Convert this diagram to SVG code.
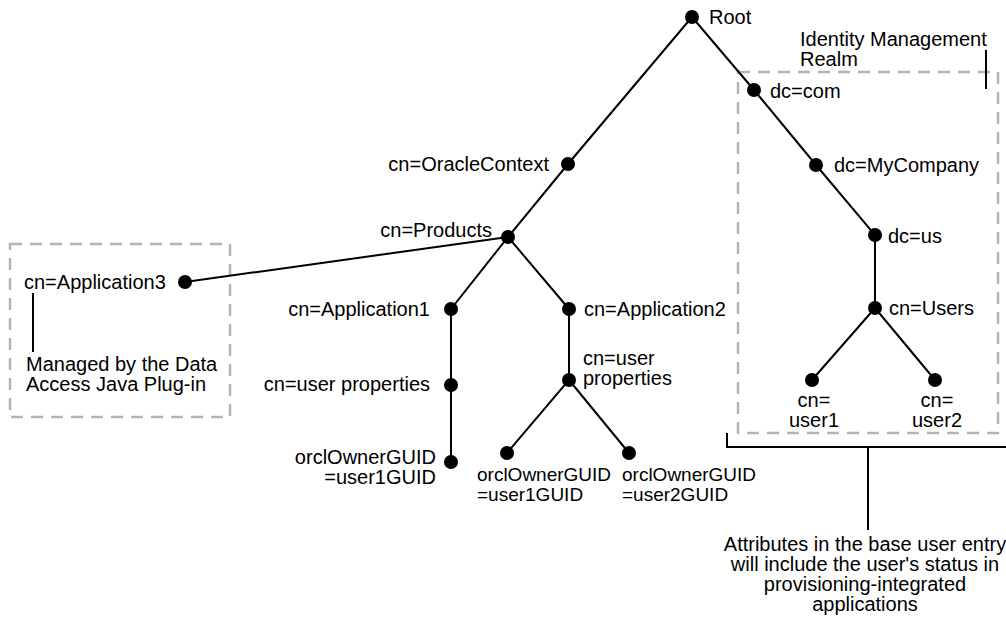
<svg xmlns="http://www.w3.org/2000/svg" width="1006" height="621" viewBox="0 0 1006 621">
<style>
  text { font-family: "Liberation Sans", Arial, sans-serif; font-size: 20px; fill: #000; }
  .e { text-anchor: end; }
  .m { text-anchor: middle; }
  .s { font-size: 19px; }
  .dot { fill: #000; }
  .ln { stroke: #000; stroke-width: 2; fill: none; }
  .dash { stroke: #b3b3b3; stroke-width: 2.5; stroke-dasharray: 12 8; fill: none; }
</style>
<rect width="1006" height="621" fill="#fff"/>
<g id="regions">
  <rect class="dash" x="10" y="244" width="220" height="173"/>
  <rect class="dash" x="738" y="72" width="260" height="361"/>
</g>
<g id="connectors">
  <path class="ln" d="M692,17 L568,164 L508,237"/>
  <path class="ln" d="M692,17 L754,90 L816,165 L875,235 L875,308"/>
  <path class="ln" d="M875,308 L812,380 M875,308 L935,380"/>
  <path class="ln" d="M508,237 L185,282 M508,237 L451,309 M508,237 L569,309"/>
  <path class="ln" d="M451,309 L451,462"/>
  <path class="ln" d="M569,309 L569,380 L507,453 M569,380 L629,453"/>
  <path class="ln" d="M33,293 V352"/>
  <path class="ln" d="M986,50 V89"/>
  <path class="ln" d="M727,433 V447 H1006 M868,447 V530"/>
</g>
<g id="root"><circle class="dot" cx="692" cy="17" r="7"/><text x="709" y="24">Root</text></g>
<g id="dc-com"><circle class="dot" cx="754" cy="90" r="7"/><text x="770" y="98">dc=com</text></g>
<g id="dc-mycompany"><circle class="dot" cx="816" cy="165" r="7"/><text x="834" y="172">dc=MyCompany</text></g>
<g id="dc-us"><circle class="dot" cx="875" cy="235" r="7"/><text x="888" y="243">dc=us</text></g>
<g id="cn-users"><circle class="dot" cx="875" cy="308" r="7"/><text x="889" y="315">cn=Users</text></g>
<g id="cn-user1"><circle class="dot" cx="812" cy="380" r="7"/><text class="m" x="814" y="407">cn=</text><text class="m" x="814" y="427">user1</text></g>
<g id="cn-user2"><circle class="dot" cx="935" cy="380" r="7"/><text class="m" x="937" y="407">cn=</text><text class="m" x="937" y="427">user2</text></g>
<g id="cn-oraclecontext"><circle class="dot" cx="568" cy="164" r="7"/><text class="e" x="549" y="171">cn=OracleContext</text></g>
<g id="cn-products"><circle class="dot" cx="508" cy="237" r="7"/><text class="e" x="492" y="237">cn=Products</text></g>
<g id="cn-application3"><circle class="dot" cx="185" cy="282" r="7"/><text x="24" y="289">cn=Application3</text></g>
<g id="cn-application1"><circle class="dot" cx="451" cy="309" r="7"/><text class="e" x="430" y="316">cn=Application1</text></g>
<g id="cn-application2"><circle class="dot" cx="569" cy="309" r="7"/><text x="584" y="316">cn=Application2</text></g>
<g id="user-properties-1"><circle class="dot" cx="451" cy="385" r="7"/><text class="e" x="430" y="391">cn=user properties</text></g>
<g id="user-properties-2"><circle class="dot" cx="569" cy="380" r="7"/><text x="583" y="365">cn=user</text><text x="583" y="385">properties</text></g>
<g id="guid-1"><circle class="dot" cx="451" cy="462" r="7"/><text class="e" x="436" y="464">orclOwnerGUID</text><text class="e" x="436" y="484">=user1GUID</text></g>
<g id="guid-2"><circle class="dot" cx="507" cy="453" r="7"/><text class="s" x="477" y="481">orclOwnerGUID</text><text class="s" x="477" y="501">=user1GUID</text></g>
<g id="guid-3"><circle class="dot" cx="629" cy="453" r="7"/><text class="s" x="622" y="481">orclOwnerGUID</text><text class="s" x="622" y="501">=user2GUID</text></g>
<g id="realm-label"><text x="800" y="46">Identity Management</text><text x="800" y="66">Realm</text></g>
<g id="managed-note"><text x="26" y="371">Managed by the Data</text><text x="26" y="391">Access Java Plug-in</text></g>
<g id="attributes-note">
  <text class="m" x="865" y="551">Attributes in the base user entry</text>
  <text class="m" x="865" y="571">will include the user's status in</text>
  <text class="m" x="865" y="591">provisioning-integrated</text>
  <text class="m" x="865" y="611">applications</text>
</g>
</svg>
